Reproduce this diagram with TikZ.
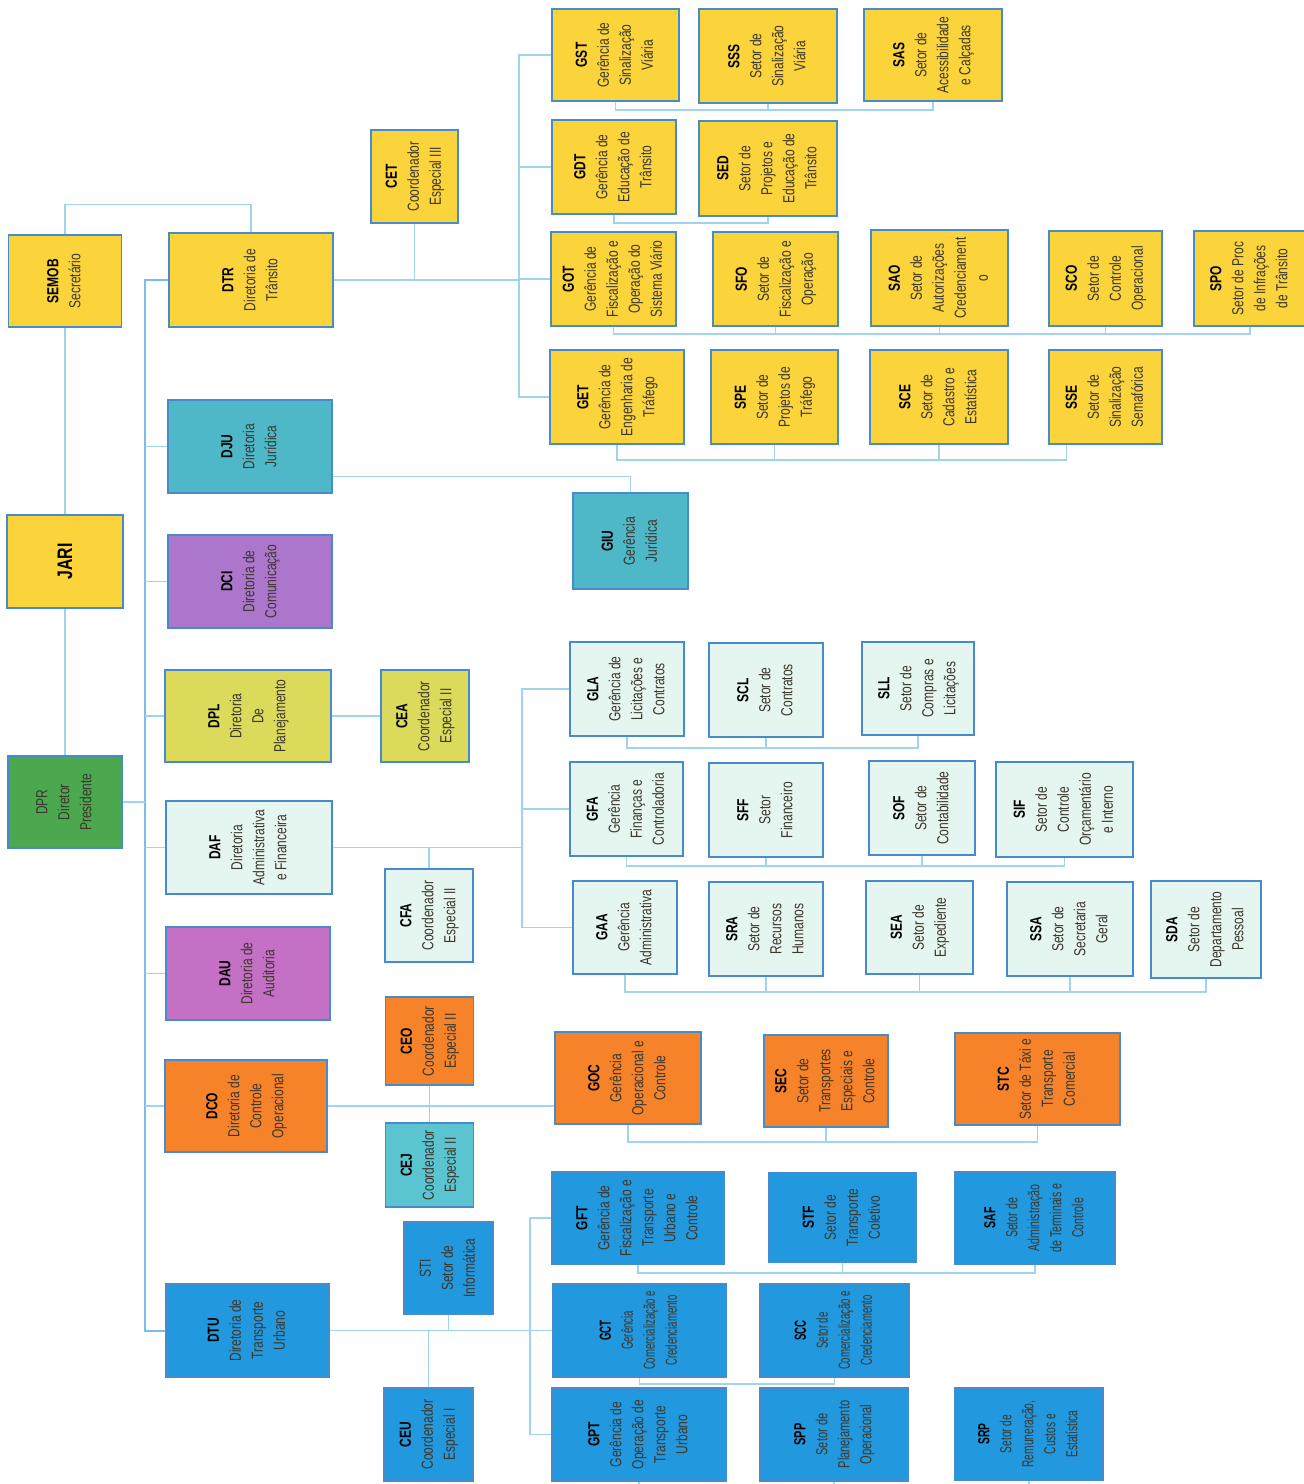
\documentclass[tikz,border=0pt]{standalone}
\usepackage{fontspec}
\setmainfont[FakeStretch=0.75]{Liberation Sans}
\usetikzlibrary{calc}
\definecolor{yel}{RGB}{251,211,58}
\definecolor{ygr}{RGB}{220,218,90}
\definecolor{teal}{RGB}{78,184,200}
\definecolor{tealb}{RGB}{90,196,208}
\definecolor{purp}{RGB}{172,118,205}
\definecolor{mag}{RGB}{196,112,196}
\definecolor{grn}{RGB}{76,168,78}
\definecolor{mint}{RGB}{229,245,239}
\definecolor{orng}{RGB}{246,131,42}
\definecolor{blu}{RGB}{34,152,222}
\definecolor{bordc}{RGB}{70,140,205}
\definecolor{conc}{RGB}{160,212,238}
\definecolor{spc}{RGB}{120,190,232}
\definecolor{desc}{RGB}{60,55,45}
\newcommand\orgb[2]{\rotatebox{90}{\begin{tabular}{@{}c@{}}\textcolor{black}{\bfseries #1}\\#2\end{tabular}}}
\newcommand\orgn[2]{\rotatebox{90}{\begin{tabular}{@{}c@{}}#1\\#2\end{tabular}}}
\newcommand\orgs[3]{\rotatebox{90}{\scalebox{#1}[1]{\begin{tabular}{@{}c@{}}\textcolor{black}{\bfseries #2}\\#3\end{tabular}}}}
\tikzset{
  bx/.style={draw=bordc, line width=1.1pt, fill=#1, inner sep=0pt, text=desc, font=\fontsize{16}{22}\selectfont},
  sz/.style 2 args={minimum width=#1, minimum height=#2},
  conn/.style={draw=conc, line width=1.3pt},
  spine/.style={draw=spc, line width=2pt}
}
\begin{document}
\begin{tikzpicture}[x=1pt,y=-1pt]
\useasboundingbox (0,0) rectangle (1304,1484);
\fill[white] (0,0) rectangle (1304,1484);
% left column
\node[bx=yel, sz={113}{92}] (SEMOB) at (65,281) {\orgb{SEMOB}{Secretário}};
\node[bx=yel, sz={164}{94}] (DTR) at (251,280) {\orgb{DTR}{Diretoria de\\Trânsito}};
\node[bx=yel, sz={87}{93}] (CET) at (414.5,176.5) {\orgb{CET}{Coordenador\\Especial III}};
\node[bx=yel, sz={116}{93}] (JARI) at (65,561.5) {\rotatebox{90}{\fontsize{21}{24}\selectfont\bfseries\color{black}JARI}};
\node[bx=grn, sz={114}{92}] (DPR) at (65,802) {\orgn{DPR}{Diretor\\Presidente}};
\node[bx=teal, sz={164}{93}] (DJU) at (250,446.5) {\orgb{DJU}{Diretoria\\Jurídica}};
\node[bx=purp, sz={164}{93}] (DCI) at (250,581.5) {\orgb{DCI}{Diretoria de\\Comunicação}};
\node[bx=ygr, sz={166}{92}] (DPL) at (248,716) {\orgb{DPL}{Diretoria\\De\\Planejamento}};
\node[bx=mint, sz={166}{93}] (DAF) at (249,847.5) {\orgb{DAF}{Diretoria\\Administrativa\\e Financeira}};
\node[bx=mag, sz={164}{93}] (DAU) at (248,973.5) {\orgb{DAU}{Diretoria de\\Auditoria}};
\node[bx=orng, sz={162}{92}] (DCO) at (246,1106) {\orgb{DCO}{Diretoria de\\Controle\\Operacional}};
\node[bx=blu, sz={163}{93}] (DTU) at (247.5,1330.5) {\orgb{DTU}{Diretoria de\\Transporte\\Urbano}};
\node[bx=ygr, sz={88}{92}] (CEA) at (425,716) {\orgb{CEA}{Coordenador\\Especial II}};
\node[bx=mint, sz={88}{93}] (CFA) at (429,915.5) {\orgb{CFA}{Coordenador\\Especial II}};
\node[bx=orng, sz={88}{88}] (CEO) at (429.5,1041) {\orgb{CEO}{Coordenador\\Especial II}};
\node[bx=tealb, sz={88}{84}] (CEJ) at (429.5,1165) {\orgb{CEJ}{Coordenador\\Especial II}};
\node[bx=blu, sz={89}{92}] (STI) at (448.5,1268) {\orgn{STI}{Setor de\\Informática}};
\node[bx=blu, sz={89}{93}] (CEU) at (428.5,1434.5) {\orgb{CEU}{Coordenador\\Especial I}};
\node[bx=teal, sz={115}{96}] (GIU) at (630.5,541) {\orgb{GIU}{Gerência\\Jurídica}};
% DTR group
\node[bx=yel, sz={127}{92}] (GST) at (615.5,55) {\orgb{GST}{Gerência de\\Sinalização\\Viária}};
\node[bx=yel, sz={138}{94}] (SSS) at (768,56) {\orgb{SSS}{Setor de\\Sinalização\\Viária}};
\node[bx=yel, sz={138}{92}] (SAS) at (933,55) {\orgb{SAS}{Setor de\\Acessibilidade\\e Calçadas}};
\node[bx=yel, sz={124}{94}] (GDT) at (614,167) {\orgb{GDT}{Gerência de\\Educação de\\Trânsito}};
\node[bx=yel, sz={138}{95}] (SED) at (768,168.5) {\orgb{SED}{Setor de\\Projetos e\\Educação de\\Trânsito}};
\node[bx=yel, sz={125}{94}] (GOT) at (613.5,279) {\orgb{GOT}{Gerência de\\Fiscalização e\\Operação do\\Sistema Viário}};
\node[bx=yel, sz={125}{94}] (SFO) at (775.5,279) {\orgb{SFO}{Setor de\\Fiscalização e\\Operação}};
\node[bx=yel, sz={137}{96}] (SAO) at (939.5,278) {\orgb{SAO}{Setor de\\Autorizações\\Credenciament\\o}};
\node[bx=yel, sz={113}{95}] (SCO) at (1105.5,278.5) {\orgb{SCO}{Setor de\\Controle\\Operacional}};
\node[bx=yel, sz={112}{95}] (SPO) at (1250,278.5) {\orgb{SPO}{Setor de Proc\\de Infrações\\de Trânsito}};
\node[bx=yel, sz={134}{94}] (GET) at (617,397) {\orgb{GET}{Gerência de\\Engenharia de\\Tráfego}};
\node[bx=yel, sz={127}{94}] (SPE) at (774.5,397) {\orgb{SPE}{Setor de\\Projetos de\\Tráfego}};
\node[bx=yel, sz={138}{94}] (SCE) at (939,397) {\orgb{SCE}{Setor de\\Cadastro e\\Estatística}};
\node[bx=yel, sz={113}{94}] (SSE) at (1105.5,397) {\orgb{SSE}{Setor de\\Sinalização\\Semafórica}};
% DAF group
\node[bx=mint, sz={114}{94}] (GLA) at (627,689) {\orgb{GLA}{Gerência de\\Licitações e\\Contratos}};
\node[bx=mint, sz={114}{94}] (SCL) at (766,690) {\orgb{SCL}{Setor de\\Contratos}};
\node[bx=mint, sz={112}{93}] (SLL) at (918,688.5) {\orgb{SLL}{Setor de\\Compras e\\Licitações}};
\node[bx=mint, sz={113}{94}] (GFA) at (626.5,809) {\orgb{GFA}{Gerência\\Finanças e\\Controladoria}};
\node[bx=mint, sz={114}{94}] (SFF) at (766,810) {\orgb{SFF}{Setor\\Financeiro}};
\node[bx=mint, sz={106}{94}] (SOF) at (922,808) {\orgb{SOF}{Setor de\\Contabilidade}};
\node[bx=mint, sz={137}{95}] (SIF) at (1064.5,809.5) {\orgb{SIF}{Setor de\\Controle\\Orçamentário\\e Interno}};
\node[bx=mint, sz={104}{93}] (GAA) at (625,927.5) {\orgb{GAA}{Gerência\\Administrativa}};
\node[bx=mint, sz={114}{94}] (SRA) at (766,929) {\orgb{SRA}{Setor de\\Recursos\\Humanos}};
\node[bx=mint, sz={107}{93}] (SEA) at (919.5,927.5) {\orgb{SEA}{Setor de\\Expediente}};
\node[bx=mint, sz={126}{94}] (SSA) at (1070,929) {\orgb{SSA}{Setor de\\Secretaria\\Geral}};
\node[bx=mint, sz={110}{97}] (SDA) at (1206,929.5) {\orgb{SDA}{Setor de\\Departamento\\Pessoal}};
% DCO group
\node[bx=orng, sz={146}{92}] (GOC) at (628,1078) {\orgb{GOC}{Gerência\\Operacional e\\Controle}};
\node[bx=orng, sz={124}{92}] (SEC) at (826,1081) {\orgb{SEC}{Setor de\\Transportes\\Especiais e\\Controle}};
\node[bx=orng, sz={165}{92}] (STC) at (1037.5,1079) {\orgb{STC}{Setor de Táxi e\\Transporte\\Comercial}};
% DTU group
\node[bx=blu, sz={172}{92}] (GFT) at (638,1218) {\orgb{GFT}{Gerência de\\Fiscalização e\\Transporte\\Urbano e\\Controle}};
\node[bx=blu, sz={147}{89}] (STF) at (842.5,1217.5) {\orgb{STF}{Setor de\\Transporte\\Coletivo}};
\node[bx=blu, sz={160}{92}] (SAF) at (1035,1218) {\orgs{0.88}{SAF}{Setor de\\Administração\\de Terminais e\\Controle}};
\node[bx=blu, sz={173}{93}] (GCT) at (639.5,1330.5) {\orgs{0.8}{GCT}{Gerência\\Comercialização e\\Credenciamento}};
\node[bx=blu, sz={149}{93}] (SCC) at (834.5,1330.5) {\orgs{0.8}{SCC}{Setor de\\Comercialização e\\Credenciamento}};
\node[bx=blu, sz={174}{93}] (GPT) at (639,1434.5) {\orgb{GPT}{Gerência de\\Operação de\\Transporte\\Urbano}};
\node[bx=blu, sz={148}{93}] (SPP) at (834,1434.5) {\orgs{0.92}{SPP}{Setor de\\Planejamento\\Operacional}};
\node[bx=blu, sz={148}{92}] (SRP) at (1029,1434) {\orgs{0.85}{SRP}{Setor de\\Remuneração,\\Custos e\\Estatística}};
% ---------- connectors ----------
\coordinate (spT) at (145,280);
\coordinate (spB) at (145,1330.5);
\draw[spine] (DTR.west) -- (spT) -- (spB) -- (DTU.west);
\foreach \n in {DJU,DCI,DPL,DAF,DAU,DCO} \draw[conn] (\n.west) -- (\n.west -| spT);
\draw[conn] (DPR.east) -- (DPR.east -| spT);
\draw[conn] (SEMOB.north) -- ++(0,-30) -| (DTR.north);
\draw[conn] (SEMOB.south) -- (JARI.north);
\draw[conn] (JARI.south) -- (DPR.north);
% DTR
\coordinate (tT) at (519,55);
\coordinate (tB) at (519,397);
\draw[conn] (GST.west) -- (tT) -- (tB) -- (GET.west);
\draw[conn] (GDT.west) -- (GDT.west -| tT);
\draw[conn] (GOT.west) -- (GOT.west -| tT);
\draw[conn] (DTR.east) -- (DTR.east -| tT);
\draw[conn] (CET.south) -- (CET.south |- DTR.east);
\coordinate (r1) at (0,110);
\draw[conn] (GST.south) |- (r1 -| SAS.south) -- (SAS.south);
\draw[conn] (SSS.south) -- (SSS.south |- r1);
\coordinate (r2) at (0,223);
\draw[conn] (GDT.south) |- (r2 -| SED.south) -- (SED.south);
\coordinate (r3) at (0,334);
\draw[conn] (GOT.south) |- (r3 -| SPO.south) -- (SPO.south);
\foreach \n in {SFO,SAO,SCO} \draw[conn] (\n.south) -- (\n.south |- r3);
\coordinate (r4) at (0,460);
\coordinate (sseP) at ($(SSE.south)+(-39,0)$);
\draw[conn] (GET.south) |- (r4 -| sseP) -- (sseP);
\foreach \n in {SPE,SCE} \draw[conn] (\n.south) -- (\n.south |- r4);
% DJU
\draw[conn] ($(DJU.east)+(0,30)$) -| (GIU.north);
% DPL
\draw[conn] (DPL.east) -- (CEA.west);
% DAF
\coordinate (fT) at (522,689);
\coordinate (fB) at (522,927.5);
\draw[conn] (GLA.west) -- (fT) -- (fB) -- (GAA.west);
\draw[conn] (GFA.west) -- (GFA.west -| fT);
\draw[conn] (DAF.east) -- (DAF.east -| fT);
\draw[conn] (CFA.north) -- (CFA.north |- DAF.east);
\coordinate (r5) at (0,748);
\draw[conn] (GLA.south) |- (r5 -| SLL.south) -- (SLL.south);
\draw[conn] (SCL.south) -- (SCL.south |- r5);
\coordinate (r6) at (0,866);
\draw[conn] (GFA.south) |- (r6 -| SIF.south) -- (SIF.south);
\foreach \n in {SFF,SOF} \draw[conn] (\n.south) -- (\n.south |- r6);
\coordinate (r7) at (0,992);
\draw[conn] (GAA.south) |- (r7 -| SDA.south) -- (SDA.south);
\foreach \n in {SRA,SEA,SSA} \draw[conn] (\n.south) -- (\n.south |- r7);
% DCO
\draw[conn] (DCO.east) -- (DCO.east -| GOC.west);
\draw[conn] (CEO.south) -- (CEJ.north);
\coordinate (r8) at (0,1142);
\draw[conn] (GOC.south) |- (r8 -| STC.south) -- (STC.south);
\draw[conn] (SEC.south) -- (SEC.south |- r8);
% DTU
\coordinate (uT) at (530,1218);
\coordinate (uB) at (530,1434.5);
\draw[conn] (GFT.west) -- (uT) -- (uB) -- (GPT.west);
\draw[conn] (GCT.west) -- (GCT.west -| uT);
\draw[conn] (DTU.east) -- (DTU.east -| uT);
\draw[conn] (STI.south) -- (STI.south |- DTU.east);
\draw[conn] (CEU.north) -- (CEU.north |- DTU.east);
\coordinate (r9) at (0,1273);
\draw[conn] (GFT.south) |- (r9 -| SAF.south) -- (SAF.south);
\draw[conn] (STF.south) -- (STF.south |- r9);
\coordinate (r10) at (0,1384);
\draw[conn] (GCT.south) |- (r10 -| SCC.south) -- (SCC.south);
\coordinate (bot) at (0,1484);
\foreach \n in {GPT,SPP,SRP} \draw[conn] (\n.south) -- (\n.south |- bot);
\end{tikzpicture}
\end{document}
